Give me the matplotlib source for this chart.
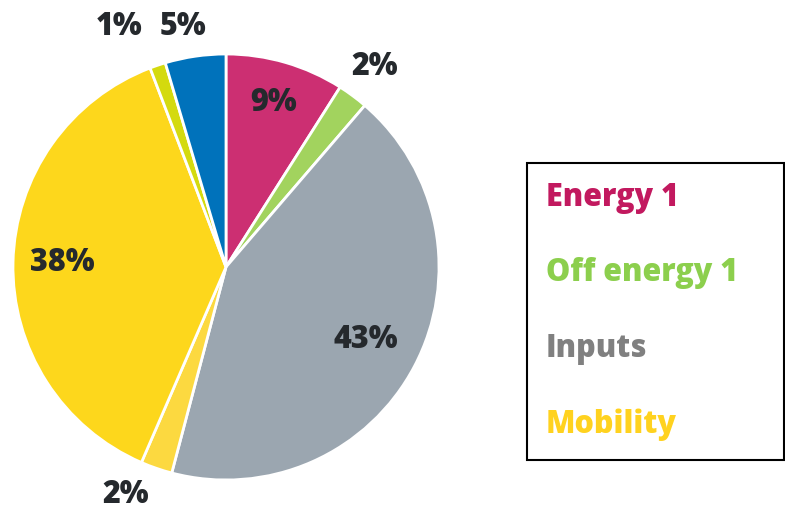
import numpy as np
import matplotlib.pyplot as plt

# slice shares, clockwise from 12 o'clock
shares = [9.0, 2.3, 42.8, 2.4, 37.7, 1.2, 4.6]
colors = ['#cc2f72', '#a2d35e', '#9ba6b0', '#fcd940', '#fdd71c', '#d4da0e', '#0072bb']
legend_names = ['Energy 1', 'Off energy 1', 'Inputs', 'Mobility']
legend_colors = ['#c2195f', '#8ccf4d', '#808080', '#ffd21f']

plt.rcParams['font.family'] = ['Open Sans', 'DejaVu Sans']

fig = plt.figure(figsize=(7.85, 5.11), dpi=100)
ax = fig.add_axes([13 / 785, 31 / 511, 426 / 785, 426 / 511])

wedges, _ = ax.pie(shares, colors=colors, startangle=90, counterclock=False,
                   wedgeprops=dict(edgecolor='white', linewidth=2))
ax.set_xlim(-1, 1)
ax.set_ylim(-1, 1)

# percentage labels: big slices inside, small ones outside
label_color = '#25292d'
radius = {0: 0.8, 1: 1.17, 2: 0.74, 3: 1.135, 4: 0.77, 5: 1.19, 6: 1.14}
shift = {3: -0.1, 5: -0.12, 6: -0.04}
for i, (w, v) in enumerate(zip(wedges, shares)):
    ang = np.deg2rad((w.theta1 + w.theta2) / 2)
    x = radius[i] * np.cos(ang) + shift.get(i, 0)
    y = radius[i] * np.sin(ang)
    ax.text(x, y, '%.0f%%' % v, ha='center', va='center', fontsize=22,
            fontweight=800, color=label_color, clip_on=False)

handles = [plt.Rectangle((0, 0), 0, 0, visible=False) for _ in legend_names]
leg = fig.legend(handles, legend_names, loc='upper left',
                 bbox_to_anchor=(527 / 785, 0, 257 / 785, 1 - 163 / 511),
                 mode='expand', borderaxespad=0, handlelength=0, handletextpad=0,
                 fontsize=22, labelspacing=1.42, borderpad=0.62, fancybox=False,
                 framealpha=1)
leg.get_frame().set_edgecolor('black')
leg.get_frame().set_linewidth(1.5)
for t, c in zip(leg.get_texts(), legend_colors):
    t.set_color(c)
    t.set_fontweight(800)

fig.savefig('out.png', dpi=100)
